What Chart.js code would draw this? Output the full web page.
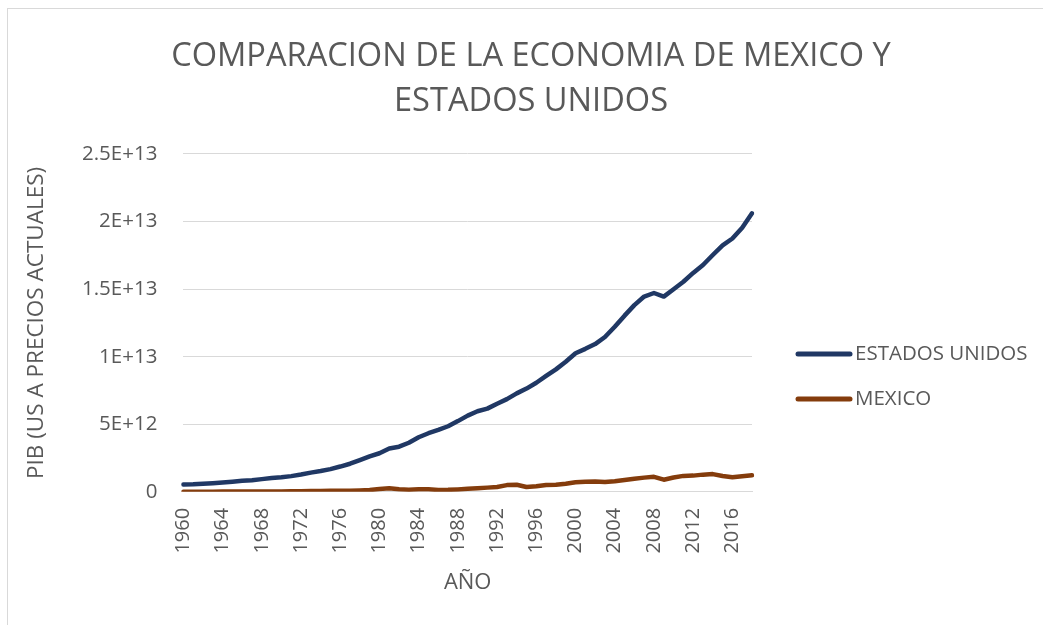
<!DOCTYPE html>
<html>
<head>
<meta charset="utf-8">
<script src="https://cdn.jsdelivr.net/npm/chart.js@4/dist/chart.umd.min.js"></script>
<style>
  html, body { margin: 0; padding: 0; background: #fff; }
  .chart_frame { position: absolute; left: 7px; top: 8px; width: 1100px; height: 700px; border-left: 1px solid #d9d9d9; border-top: 1px solid #d9d9d9; }
  .chart_box { position: absolute; left: 0; top: 0; width: 1043px; height: 625px; }
</style>
</head>
<body>
<div class="chart_frame"></div>
<div class="chart_box"><canvas id="gdpChart"></canvas></div>
<script>
const years = [];
for (let y = 1960; y <= 2018; y++) years.push(String(y));

// PIB en dolares corrientes
const usaGdp = [
  5.43e11, 5.63e11, 6.05e11, 6.38e11, 6.86e11, 7.44e11, 8.15e11, 8.62e11, 9.43e11, 1.019e12,
  1.073e12, 1.165e12, 1.280e12, 1.425e12, 1.545e12, 1.684e12, 1.873e12, 2.082e12, 2.352e12, 2.627e12,
  2.857e12, 3.207e12, 3.343e12, 3.634e12, 4.037e12, 4.339e12, 4.580e12, 4.855e12, 5.236e12, 5.642e12,
  5.963e12, 6.158e12, 6.520e12, 6.859e12, 7.287e12, 7.640e12, 8.073e12, 8.578e12, 9.063e12, 9.631e12,
  1.0252e13, 1.0582e13, 1.0936e13, 1.1458e13, 1.2214e13, 1.3037e13, 1.3815e13, 1.4452e13, 1.4713e13, 1.4449e13,
  1.4992e13, 1.5543e13, 1.6197e13, 1.6785e13, 1.7527e13, 1.8238e13, 1.8745e13, 1.9543e13, 2.0612e13
];
const mexicoGdp = [
  1.30e10, 1.42e10, 1.53e10, 1.70e10, 2.05e10, 2.19e10, 2.42e10, 2.63e10, 2.88e10, 3.15e10,
  3.55e10, 3.92e10, 4.52e10, 5.53e10, 7.20e10, 8.80e10, 8.91e10, 8.16e10, 1.028e11, 1.345e11,
  2.055e11, 2.637e11, 1.849e11, 1.566e11, 1.848e11, 1.952e11, 1.344e11, 1.474e11, 1.819e11, 2.213e11,
  2.613e11, 3.130e11, 3.631e11, 5.003e11, 5.270e11, 3.603e11, 4.108e11, 5.003e11, 5.267e11, 6.001e11,
  7.079e11, 7.566e11, 7.720e11, 7.292e11, 7.822e11, 8.776e11, 9.753e11, 1.0529e12, 1.1098e12, 9.002e11,
  1.0576e12, 1.1803e12, 1.2016e12, 1.2743e12, 1.3150e12, 1.1715e12, 1.0784e12, 1.1589e12, 1.2221e12
];
const seriesNames = ["ESTADOS UNIDOS", "MEXICO"];
const seriesColors = ["#203864", "#843c0c"];

const textColor = "#595959";
const fontFamily = "'Open Sans', sans-serif";

function sciLabel(v) {
  if (v === 0) return "0";
  const exp = Math.floor(Math.log10(v) + 1e-9);
  const mant = +(v / Math.pow(10, exp)).toFixed(2);
  return `${mant}E+${exp}`;
}

// leyenda dibujada a mano a la derecha
const sideLegend = {
  id: "sideLegend",
  afterDraw(chart) {
    const ctx = chart.ctx;
    const area = chart.chartArea;
    const x0 = area.right + 46;
    const rows = [354, 399];
    ctx.save();
    chart.data.datasets.forEach((ds, i) => {
      const y = rows[i];
      ctx.strokeStyle = ds.borderColor;
      ctx.lineWidth = 5;
      ctx.lineCap = "round";
      ctx.beginPath();
      ctx.moveTo(x0, y);
      ctx.lineTo(x0 + 52, y);
      ctx.stroke();
      ctx.fillStyle = textColor;
      ctx.font = `20.5px ${fontFamily}`;
      ctx.textBaseline = "middle";
      ctx.textAlign = "left";
      ctx.fillText(ds.label, x0 + 57, y);
    });
    ctx.restore();
  }
};

new Chart(document.getElementById("gdpChart"), {
  type: "line",
  data: {
    labels: years,
    datasets: [
      { label: seriesNames[0], data: usaGdp, borderColor: seriesColors[0], backgroundColor: seriesColors[0] },
      { label: seriesNames[1], data: mexicoGdp, borderColor: seriesColors[1], backgroundColor: seriesColors[1] }
    ]
  },
  options: {
    responsive: true,
    maintainAspectRatio: false,
    animation: false,
    layout: { padding: { left: 19, right: 0, top: 0, bottom: 29 } },
    elements: {
      line: { borderWidth: 4.5, tension: 0, borderCapStyle: "round", borderJoinStyle: "round" },
      point: { radius: 0 }
    },
    plugins: {
      legend: { display: false },
      tooltip: { enabled: false },
      title: {
        display: true,
        text: ["COMPARACION DE LA ECONOMIA DE MEXICO Y", "ESTADOS UNIDOS"],
        color: textColor,
        font: { family: fontFamily, size: 32.6, weight: "normal", lineHeight: 1.38 },
        padding: { top: 34, bottom: 30 }
      }
    },
    scales: {
      x: {
        offset: false,
        grid: { display: false, drawTicks: false },
        border: { display: true, color: "#d9d9d9", width: 1 },
        ticks: {
          autoSkip: false,
          maxRotation: 90,
          minRotation: 90,
          padding: 16,
          color: textColor,
          font: { family: fontFamily, size: 20 },
          callback: function (val, idx) { return idx % 4 === 0 ? this.getLabelForValue(val) : null; }
        },
        title: {
          display: true,
          text: "AÑO",
          color: textColor,
          font: { family: fontFamily, size: 22 },
          padding: { top: 0, bottom: 0 }
        }
      },
      y: {
        min: 0,
        max: 2.5e13,
        grid: { color: "#d9d9d9", lineWidth: 1, drawTicks: false },
        border: { display: false },
        ticks: {
          stepSize: 5e12,
          padding: 26,
          color: textColor,
          font: { family: fontFamily, size: 20.5 },
          callback: (v) => sciLabel(v)
        },
        title: {
          display: true,
          text: "PIB (US A PRECIOS ACTUALES)",
          color: textColor,
          font: { family: fontFamily, size: 22.5 },
          padding: { top: 4, bottom: 6 }
        }
      },
      // eje vacio que reserva el hueco de la leyenda
      legendSpace: {
        type: "linear",
        position: "right",
        grid: { display: false, drawTicks: false },
        border: { display: false },
        ticks: { display: false },
        afterFit: (scale) => { scale.width = 291; }
      }
    }
  },
  plugins: [sideLegend]
});
</script>
</body>
</html>
